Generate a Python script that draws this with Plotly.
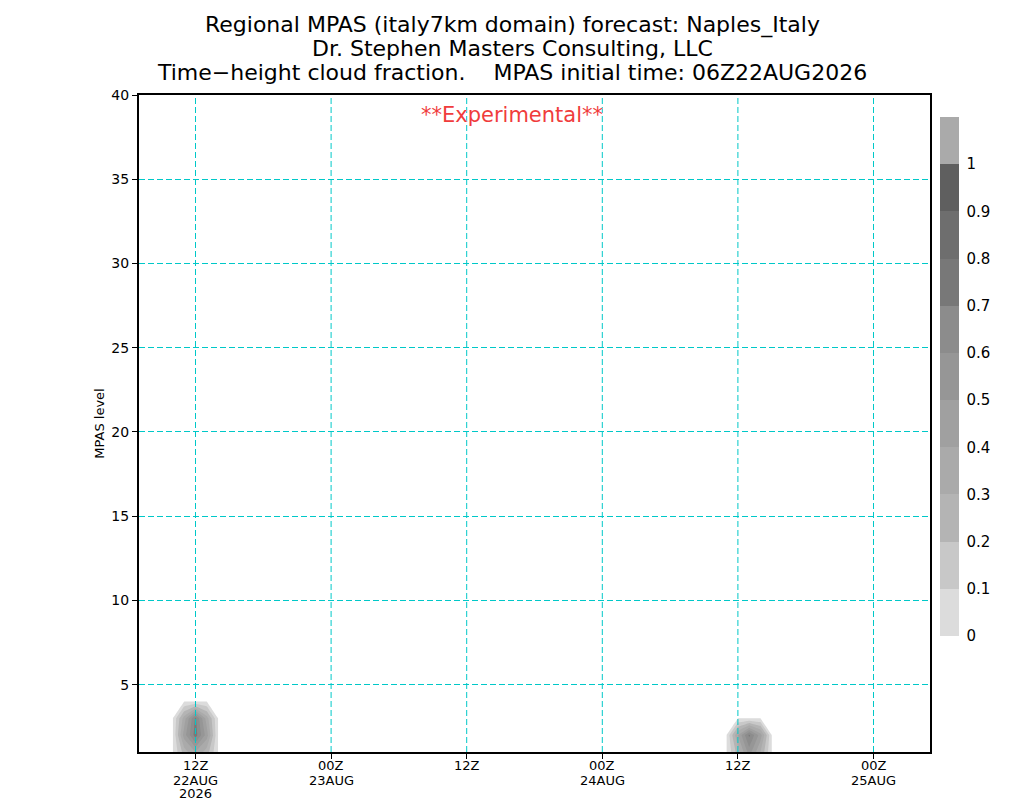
import numpy as np
import pandas as pd
import plotly.graph_objects as go

# hourly MPAS output on the time axis, MPAS model levels on the vertical
times = pd.date_range("2026-08-22 07:00", "2026-08-25 05:00", freq="h")
levels = list(range(1, 41))

# cloud fraction (rows = level, cols = hour), rest is 0
blob1_times = ["2026-08-22 11:00", "2026-08-22 12:00", "2026-08-22 13:00"]
blob1_levels = [1, 2, 3]
blob1_frac = [[0.25, 0.40, 0.25],
              [0.45, 0.75, 0.45],
              [0.35, 0.72, 0.35]]

blob2_times = ["2026-08-24 12:00", "2026-08-24 13:00", "2026-08-24 14:00"]
blob2_levels = [1, 2]
blob2_frac = [[0.25, 0.55, 0.30],
              [0.40, 0.72, 0.45]]

tick_times = ["2026-08-22 12:00", "2026-08-23 00:00", "2026-08-23 12:00",
              "2026-08-24 00:00", "2026-08-24 12:00", "2026-08-25 00:00"]
tick_hours = ["12Z", "00Z", "12Z", "00Z", "12Z", "00Z"]
tick_days = ["22AUG", "23AUG", "", "24AUG", "", "25AUG"]
tick_years = ["2026", "", "", "", "", ""]
y_ticks = [5, 10, 15, 20, 25, 30, 35, 40]

cbar_levels = [0, 0.1, 0.2, 0.3, 0.4, 0.5, 0.6, 0.7, 0.8, 0.9, 1]
cbar_labels = ["0", "0.1", "0.2", "0.3", "0.4", "0.5", "0.6", "0.7", "0.8", "0.9", "1"]
# shade for 0-0.1, 0.1-0.2, ... 0.9-1, >1
shades = ["#dcdcdc", "#c8c8c8", "#b4b4b4", "#aaaaaa", "#a0a0a0", "#969696",
          "#8c8c8c", "#787878", "#6e6e6e", "#5f5f5f", "#aaaaaa"]

title_lines = ["Regional MPAS (italy7km domain) forecast: Naples_Italy",
               "Dr. Stephen Masters Consulting, LLC",
               "Time\u2212height cloud fraction.    MPAS initial time: 06Z22AUG2026"]

CYAN = "rgb(0,200,200)"
FONT = "DejaVu Sans"

# build the time-height grid
z = np.zeros((len(levels), len(times)))
tpos = {t: i for i, t in enumerate(times)}
for btimes, blevs, bfrac in [(blob1_times, blob1_levels, blob1_frac),
                             (blob2_times, blob2_levels, blob2_frac)]:
    for r, lev in enumerate(blevs):
        for c, t in enumerate(btimes):
            z[levels.index(lev), tpos[pd.Timestamp(t)]] = bfrac[r][c]

# contour fill: below first level left clear, then one colour per band
fill_colors = ["rgba(255,255,255,0)"] + shades
n = len(fill_colors) - 1
contour_scale = [[k / n, col] for k, col in enumerate(fill_colors)]

# discrete scale for the colour bar
bar_scale = []
for k, col in enumerate(shades):
    bar_scale.append([k / len(shades), col])
    bar_scale.append([(k + 1) / len(shades), col])

fig = go.Figure()
fig.add_trace(go.Contour(
    x=times, y=levels, z=z,
    autocontour=False,
    contours=dict(start=0.001, end=1.001, size=0.1, coloring="fill", showlines=False),
    line=dict(width=0, smoothing=0),
    colorscale=contour_scale,
    showscale=False,
    hoverinfo="skip",
))

# page body adds an 8px margin, so work in page pixels minus that
OFF = 8
L, R, T, B = 139 - OFF, 930 - OFF, 95 - OFF, 752 - OFF
W, H = 1024, 800


def py(y):
    return (B - (y - OFF)) / (B - T)


def px(x):
    return ((x - OFF) - L) / (R - L)


# colour bar only
fig.add_trace(go.Scatter(
    x=[None], y=[None], mode="markers", showlegend=False,
    marker=dict(color=[0], cmin=0, cmax=1.1, colorscale=bar_scale, showscale=True,
                colorbar=dict(
                    lenmode="pixels", len=519, thicknessmode="pixels", thickness=19,
                    x=px(940), xanchor="left", xpad=0,
                    y=py(376.5), yanchor="middle", ypad=0,
                    outlinewidth=0, tickvals=cbar_levels, ticktext=cbar_labels,
                    ticks="outside", ticklen=5, tickcolor="white",
                    tickfont=dict(family=FONT, size=15, color="black"))),
))

shapes = []
for t in tick_times:
    shapes.append(dict(type="line", xref="x", yref="paper", x0=t, x1=t, y0=0, y1=1,
                       line=dict(color=CYAN, width=1, dash="6px,3px"), layer="above"))

annotations = []
for i, line in enumerate(title_lines):
    annotations.append(dict(text=line, xref="paper", yref="paper",
                            x=px(512), y=py(25 + 23.5 * i),
                            showarrow=False, xanchor="center", yanchor="middle",
                            font=dict(family=FONT, size=22, color="black")))
annotations.append(dict(text="**Experimental**", xref="paper", yref="paper",
                        x=px(512), y=py(115), showarrow=False,
                        xanchor="center", yanchor="middle",
                        font=dict(family=FONT, size=21, color="#f03c3c")))

# time labels: hour / day / year rows under each tick
for row, labels in zip([766, 780, 793], [tick_hours, tick_days, tick_years]):
    for t, lab in zip(tick_times, labels):
        if lab:
            annotations.append(dict(text=lab, xref="x", yref="paper", x=t, y=py(row),
                                    showarrow=False, xanchor="center", yanchor="middle",
                                    font=dict(family=FONT, size=13, color="black")))

fig.update_layout(
    width=W, height=H,
    margin=dict(l=L, r=W - R, t=T, b=H - B, autoexpand=False),
    paper_bgcolor="white", plot_bgcolor="white",
    font=dict(family=FONT, color="black"),
    shapes=shapes,
    annotations=annotations,
    showlegend=False,
)
fig.update_xaxes(range=[times[0], times[-1]], tickvals=tick_times, showticklabels=False,
                 showgrid=False, ticks="outside", ticklen=5, tickcolor="black", tickwidth=1,
                 showline=True, linecolor="black", linewidth=2, mirror=True,
                 zeroline=False)
fig.update_yaxes(range=[1, 40], tickvals=y_ticks, showgrid=True, gridcolor=CYAN,
                 gridwidth=1, griddash="6px,3px",
                 ticks="outside", ticklen=5, tickcolor="black", tickwidth=1,
                 showline=True, linecolor="black", linewidth=2, mirror=True,
                 tickfont=dict(family=FONT, size=14), zeroline=False,
                 title=dict(text="MPAS level", font=dict(family=FONT, size=13), standoff=4))

fig.write_html("out.html")
